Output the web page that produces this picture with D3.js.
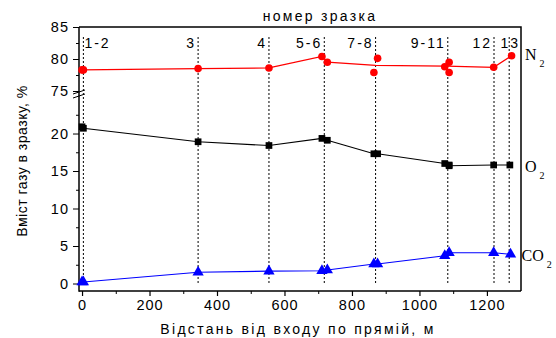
<!DOCTYPE html>
<html><head><meta charset="utf-8">
<script src="https://cdn.jsdelivr.net/npm/d3@7"></script>
<style>
body{margin:0;background:#fff;}
svg{display:block;font-family:"Liberation Sans",Arial,sans-serif;}
</style></head>
<body><svg id="c" width="556" height="338"></svg>
<script>
// ---- data ----
const sampleLabels = ["1-2","3","4","5-6","7-8","9-11","12","13"];
const sampleDist   = [4, 344, 554, 718, 870, 1084, 1221, 1266];

const n2Dist = [0, 4, 344, 554, 711, 727, 865, 876, 1075, 1088, 1088, 1220, 1273];
const n2Vals = [78.3, 78.3, 78.5, 78.6, 80.4, 79.5, 77.9, 80.1, 78.8, 79.5, 77.9, 78.7, 80.5];
const n2LineDist = [0, 344, 554, 711, 727, 870, 1080, 1220, 1273];
const n2LineVals = [78.3, 78.5, 78.6, 80.4, 79.5, 79.0, 78.9, 78.7, 80.5];

const o2Dist = [0, 4, 344, 554, 711, 727, 865, 876, 1075, 1088, 1088, 1220, 1268];
const o2Vals = [20.9, 20.7, 18.9, 18.4, 19.35, 19.1, 17.3, 17.3, 16.0, 15.8, 15.7, 15.8, 15.8];

const co2Dist = [0, 4, 344, 554, 711, 727, 865, 876, 1075, 1088, 1220, 1270];
const co2Vals = [0.2, 0.2, 1.5, 1.65, 1.7, 1.8, 2.6, 2.6, 3.7, 4.1, 4.1, 3.9];

const xTicks = [0, 200, 400, 600, 800, 1000, 1200];
const xMinor = [100, 300, 500, 700, 900, 1100];
const yLowTicks = [0, 5, 10, 15, 20];
const yLowMinor = [2.5, 7.5, 12.5, 17.5, 22.5];
const yHighTicks = [75, 80, 85];
const yHighMinor = [77.5, 82.5];

// ---- layout ----
const svg = d3.select("#c");
const L = 79, R = 521, T = 27, B = 291, BRK = 91;
const x = d3.scaleLinear().domain([-9, 1301]).range([L, R]);
const yLow = d3.scaleLinear().domain([-1, 25.67]).range([B, BRK]);
const yHigh = d3.scaleLinear().domain([75, 85]).range([BRK, T]);

const tickFont = g => g.selectAll("text").attr("font-size", 14.5).attr("letter-spacing", "1px")
  .attr("font-family", "'Liberation Sans',Arial,sans-serif").attr("fill", "#000");

// sample dashed lines
const sg = svg.append("g");
sampleDist.forEach((d, i) => {
  sg.append("line").attr("x1", x(d)).attr("x2", x(d)).attr("y1", 37).attr("y2", 284)
    .attr("stroke", "#000").attr("stroke-width", 1).attr("stroke-dasharray", "2,2");
  const lab = sampleLabels[i];
  let anchor = "end", dx = -2;
  if (i === 0) { anchor = "start"; dx = 1; }
  if (i === sampleLabels.length - 1) { anchor = "middle"; dx = 1; }
  sg.append("text").attr("x", x(d) + dx).attr("y", 48).attr("text-anchor", anchor)
    .attr("font-size", 14).attr("letter-spacing", "2px").text(lab);
});

// frame
svg.append("path").attr("d", `M${L},${T}H${R}V${B}`).attr("fill", "none")
  .attr("stroke", "#000").attr("stroke-width", 1.5);

// x axis
const gx = svg.append("g").attr("transform", `translate(0,${B})`)
  .call(d3.axisBottom(x).tickValues(xTicks).tickSize(5).tickPadding(4).tickFormat(d3.format("d")));
gx.select(".domain").attr("stroke-width", 1.5).attr("d", `M${L},0H${R}`);
gx.selectAll(".tick line").attr("stroke-width", 1.2);
tickFont(gx);
const gxm = svg.append("g").attr("transform", `translate(0,${B})`)
  .call(d3.axisBottom(x).tickValues(xMinor).tickSize(3).tickFormat(""));
gxm.select(".domain").remove();

// y axes
const gyl = svg.append("g").attr("transform", `translate(${L},0)`)
  .call(d3.axisLeft(yLow).tickValues(yLowTicks).tickSize(6).tickPadding(4));
gyl.select(".domain").remove();
tickFont(gyl);
const gylm = svg.append("g").attr("transform", `translate(${L},0)`)
  .call(d3.axisLeft(yLow).tickValues(yLowMinor).tickSize(3).tickFormat(""));
gylm.select(".domain").remove();
const gyh = svg.append("g").attr("transform", `translate(${L},0)`)
  .call(d3.axisLeft(yHigh).tickValues(yHighTicks).tickSize(6).tickPadding(4));
gyh.select(".domain").remove();
tickFont(gyh);
const gyhm = svg.append("g").attr("transform", `translate(${L},0)`)
  .call(d3.axisLeft(yHigh).tickValues(yHighMinor).tickSize(3).tickFormat(""));
gyhm.select(".domain").remove();
svg.append("line").attr("x1", L).attr("x2", L).attr("y1", T).attr("y2", B + 0.75)
  .attr("stroke", "#000").attr("stroke-width", 1.5);
// break marks
[0, 4].forEach(o => {
  svg.append("line").attr("x1", L - 6).attr("x2", L + 6).attr("y1", 94 + o).attr("y2", 90 + o)
    .attr("stroke", "#000").attr("stroke-width", 1);
});

// series
const line = (ys) => d3.line().x(d => x(d[0])).y(d => ys(d[1]));
const zip = (a, b) => a.map((v, i) => [v, b[i]]);

svg.append("path").datum(zip(n2LineDist, n2LineVals)).attr("d", line(yHigh))
  .attr("fill", "none").attr("stroke", "#ff0000").attr("stroke-width", 1.2);
svg.append("g").selectAll("circle").data(zip(n2Dist, n2Vals)).join("circle")
  .attr("cx", d => x(d[0])).attr("cy", d => yHigh(d[1])).attr("r", 3.8).attr("fill", "#ff0000");

svg.append("path").datum(zip(o2Dist, o2Vals)).attr("d", line(yLow))
  .attr("fill", "none").attr("stroke", "#000").attr("stroke-width", 1.1);
svg.append("g").selectAll("path").data(zip(o2Dist, o2Vals)).join("path")
  .attr("d", d3.symbol(d3.symbolSquare, 45))
  .attr("transform", d => `translate(${x(d[0])},${yLow(d[1])})`).attr("fill", "#000");

svg.append("path").datum(zip(co2Dist, co2Vals)).attr("d", line(yLow))
  .attr("fill", "none").attr("stroke", "#0000ff").attr("stroke-width", 1.1);
svg.append("g").selectAll("path").data(zip(co2Dist, co2Vals)).join("path")
  .attr("d", d3.symbol(d3.symbolTriangle, 55))
  .attr("transform", d => `translate(${x(d[0])},${yLow(d[1])})`).attr("fill", "#0000ff");

// gas labels
const gasLab = (xx, yy, main) => {
  const t = svg.append("text").attr("x", xx).attr("y", yy)
    .attr("font-family", "'Liberation Serif','Times New Roman',serif").attr("font-size", 16);
  t.append("tspan").text(main);
  t.append("tspan").attr("dx", 3).attr("dy", 7).attr("font-size", 10).text("2");
};
gasLab(525, 59.5, "N");
gasLab(525, 171.5, "O");
gasLab(521.5, 260.5, "CO");

// titles
svg.append("text").attr("x", 320).attr("y", 21).attr("text-anchor", "middle")
  .attr("font-size", 14).attr("letter-spacing", "2.3px").text("номер зразка");
svg.append("text").attr("x", 298).attr("y", 334).attr("text-anchor", "middle")
  .attr("font-size", 14).attr("letter-spacing", "2.3px").text("Відстань від входу по прямій, м");
svg.append("text").attr("transform", "translate(27,161) rotate(-90)").attr("text-anchor", "middle")
  .attr("font-size", 14).attr("letter-spacing", "0.5px").text("Вміст газу в зразку, %");
</script></body></html>
